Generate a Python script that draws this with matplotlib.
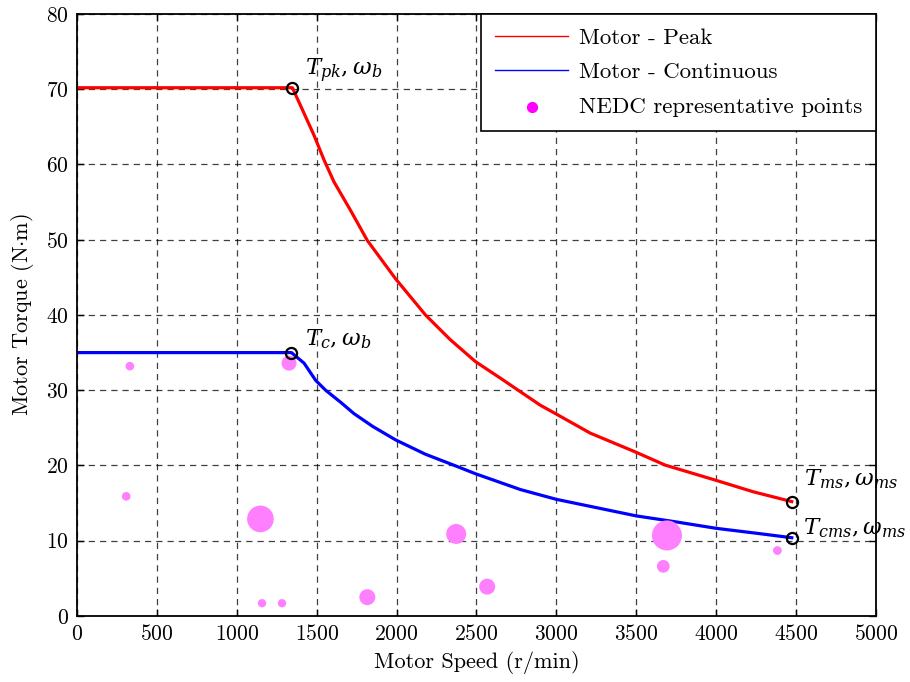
import matplotlib
matplotlib.use("Agg")
import matplotlib.pyplot as plt

plt.rcParams["font.family"] = ["cmr10", "DejaVu Serif"]
plt.rcParams["mathtext.fontset"] = "cm"
plt.rcParams["axes.formatter.use_mathtext"] = True

# peak torque envelope (r/min, N*m)
peak_speed = [0, 1348, 1421, 1483, 1546, 1608, 1712, 1817, 1994, 2181, 2337, 2494,
              2650, 2900, 2994, 3212, 3494, 3681, 3994, 4233, 4473]
peak_torque = [70.2, 70.2, 66.8, 63.9, 60.6, 57.7, 53.9, 49.9, 44.8, 40.0, 36.7, 33.8,
               31.6, 28.0, 26.9, 24.3, 21.8, 20.05, 18.06, 16.5, 15.2]

# continuous torque envelope
cont_speed = [0, 1342, 1421, 1494, 1556, 1650, 1733, 1850, 1994, 2180, 2375, 2494,
              2775, 3000, 3250, 3500, 3750, 4000, 4250, 4473]
cont_torque = [35.0, 35.0, 33.6, 31.3, 30.0, 28.4, 26.9, 25.2, 23.4, 21.5, 19.9, 18.9,
               16.8, 15.5, 14.4, 13.3, 12.5, 11.65, 11.0, 10.4]

# NEDC representative operating points, bubble area ~ weight
nedc_speed = [331, 1327, 308, 1148, 1158, 1283, 1817, 2373, 2567, 3692, 3669, 4383]
nedc_torque = [33.2, 33.6, 15.9, 12.9, 1.7, 1.7, 2.5, 10.9, 3.9, 10.7, 6.6, 8.7]
nedc_size = [39, 117, 39, 369, 36, 36, 133, 207, 133, 467, 84, 40]

# corner points
corner_speed = [1348, 1342, 4473, 4473]
corner_torque = [70.2, 35.0, 15.2, 10.4]
corner_labels = [r"$T_{pk},\omega_b$", r"$T_c,\omega_b$",
                 r"$T_{ms},\omega_{ms}$", r"$T_{cms},\omega_{ms}$"]
label_offsets = [(9, 12), (10, 10), (9, 16), (8, 7)]

fig = plt.figure(figsize=(9.10, 6.82), dpi=100)
ax = fig.add_axes([0.0846, 0.0968, 0.8780, 0.8827])

ax.plot(peak_speed, peak_torque, color="red", linewidth=2.3, label="Motor - Peak")
ax.plot(cont_speed, cont_torque, color="blue", linewidth=2.3, label="Motor - Continuous")
ax.scatter(nedc_speed, nedc_torque, s=nedc_size, color="#ff80ff", edgecolors="none",
           zorder=3)
ax.scatter([], [], s=50, color="magenta", label="NEDC representative points")
ax.plot(corner_speed, corner_torque, linestyle="none", marker="o", markersize=8,
        markerfacecolor="none", markeredgecolor="black", markeredgewidth=1.6, zorder=4)

for sx, ty, txt, off in zip(corner_speed, corner_torque, corner_labels, label_offsets):
    ax.annotate(txt, (sx, ty), xytext=off, textcoords="offset points",
                fontsize=16.5, ha="left", va="center", annotation_clip=False,
                math_fontfamily="dejavuserif")

ax.set_xlim(0, 5000)
ax.set_ylim(0, 80)
ax.set_xticks(range(0, 5001, 500))
ax.set_yticks(range(0, 81, 10))
ax.tick_params(direction="in", top=True, right=True, labelsize=15.5, length=5,
               width=1, pad=6)
ax.grid(True, color="black", linestyle=(0, (5, 4)), linewidth=0.9, alpha=0.75)
for sp in ax.spines.values():
    sp.set_linewidth(1.3)

ax.set_xlabel("Motor Speed (r/min)", fontsize=16, labelpad=5)
ax.set_ylabel(r"Motor Torque (N$\cdot$m)", fontsize=16, labelpad=7)

leg = ax.legend(loc="upper right", fontsize=16.5, frameon=True, fancybox=False,
                edgecolor="black", framealpha=1, borderaxespad=0, handlelength=3.2,
                handletextpad=0.45, labelspacing=0.62, borderpad=0.62)
leg.get_frame().set_linewidth(1.2)
for line in leg.get_lines():
    line.set_linewidth(1.0)

fig.savefig("out.png", dpi=100)
